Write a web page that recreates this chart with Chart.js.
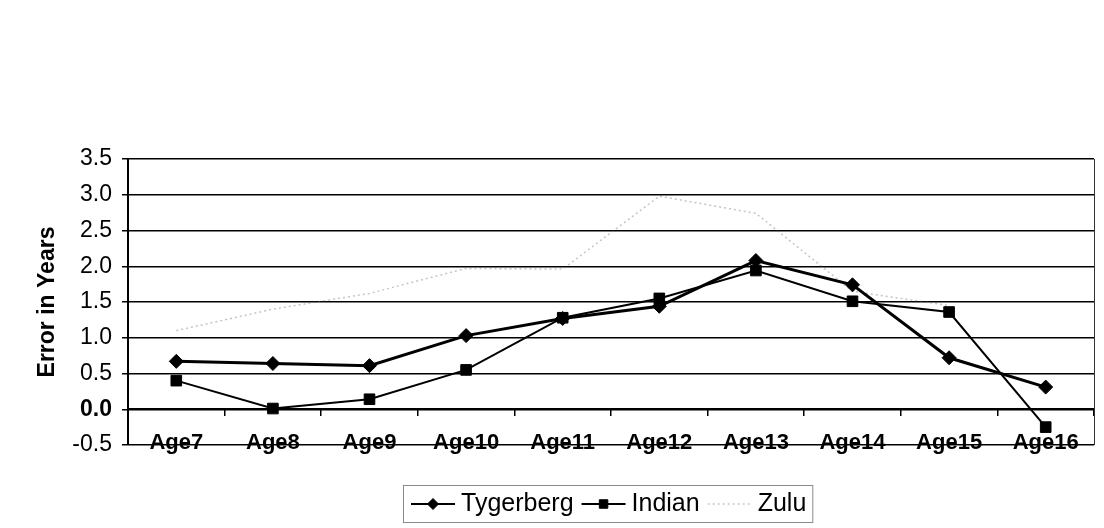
<!DOCTYPE html>
<html>
<head>
<meta charset="utf-8">
<title>Error in Years by Age</title>
<script src="https://cdn.jsdelivr.net/npm/chart.js@4"></script>
<style>
  html, body { margin: 0; padding: 0; background: #fff; }
  #chart { display: block; }
</style>
</head>
<body>
<canvas id="chart" width="1104" height="528"></canvas>
<script>
let categories = ["Age7", "Age8", "Age9", "Age10", "Age11", "Age12", "Age13", "Age14", "Age15", "Age16"];
let tygerberg = [0.67, 0.64, 0.61, 1.03, 1.27, 1.44, 2.08, 1.74, 0.72, 0.31];
let indian = [0.40, 0.01, 0.14, 0.55, 1.28, 1.55, 1.94, 1.51, 1.36, -0.25];
let zulu = [1.10, 1.40, 1.62, 1.97, 1.96, 2.98, 2.74, 1.65, 1.45, null];
let yTicks = [-0.5, 0.0, 0.5, 1.0, 1.5, 2.0, 2.5, 3.0, 3.5];

const fontFamily = "'Liberation Sans', Arial, sans-serif";

// category names sit low, across the bottom edge of the plot
const categoryLabels = {
  id: "categoryLabels",
  afterDraw(chart) {
    let ctx = chart.ctx;
    let x = chart.scales.x;
    let area = chart.chartArea;
    ctx.save();
    ctx.font = "bold 22px " + fontFamily;
    ctx.fillStyle = "#000";
    ctx.textAlign = "center";
    ctx.textBaseline = "alphabetic";
    chart.data.labels.forEach((label, i) => {
      ctx.fillText(label, x.getPixelForTick(i), area.bottom + 4);
    });
    // right edge of the plot frame
    ctx.strokeStyle = "#333";
    ctx.lineWidth = 1;
    ctx.beginPath();
    ctx.moveTo(area.right + 0.5, area.top);
    ctx.lineTo(area.right + 0.5, area.bottom);
    ctx.stroke();
    ctx.restore();
  },
};

// boxed legend with a line + marker sample for every series
const boxedLegend = {
  id: "boxedLegend",
  afterDraw(chart) {
    let ctx = chart.ctx;
    let area = chart.chartArea;
    let sampleW = 44;
    let gap = 6;
    let spacing = 8;
    ctx.save();
    ctx.font = "25px " + fontFamily;
    let items = chart.data.datasets.map((ds) => ({ ds, w: ctx.measureText(ds.label).width }));
    let total = items.reduce((s, it) => s + sampleW + gap + it.w, 0) + spacing * (items.length - 1);
    let boxW = total + 14;
    let left = Math.round((area.left + area.right) / 2 - boxW / 2) - 3;
    let top = 485;
    let boxH = 37;
    let midY = top + 19;

    ctx.strokeStyle = "#8a8a8a";
    ctx.lineWidth = 1;
    ctx.strokeRect(left + 0.5, top + 0.5, boxW, boxH);

    let x = left + 8;
    items.forEach((it) => {
      let ds = it.ds;
      ctx.save();
      ctx.strokeStyle = ds.borderColor;
      ctx.lineWidth = Math.min(ds.borderWidth, 2);
      ctx.setLineDash(ds.borderDash || []);
      ctx.beginPath();
      ctx.moveTo(x, midY);
      ctx.lineTo(x + sampleW, midY);
      ctx.stroke();
      ctx.restore();
      if (ds.pointRadius > 0) {
        ctx.fillStyle = ds.pointBackgroundColor;
        ctx.strokeStyle = ds.pointBorderColor;
        Chart.helpers.drawPoint(ctx, {
          pointStyle: ds.pointStyle,
          radius: ds.pointRadius - 1.5,
          rotation: 0,
          borderWidth: 1,
        }, x + sampleW / 2, midY);
      }
      x += sampleW + gap;
      ctx.fillStyle = "#000";
      ctx.textAlign = "left";
      ctx.textBaseline = "middle";
      ctx.fillText(ds.label, x, midY);
      x += it.w + spacing;
    });
    ctx.restore();
  },
};

//chart config
const config = {
  type: "line",
  data: {
    labels: categories,
    datasets: [
      {
        label: "Tygerberg",
        data: tygerberg,
        borderColor: "#000",
        borderWidth: 3,
        pointStyle: "rectRot",
        pointRadius: 7,
        pointBackgroundColor: "#000",
        pointBorderColor: "#000",
        pointBorderWidth: 1,
      },
      {
        label: "Indian",
        data: indian,
        borderColor: "#000",
        borderWidth: 2,
        pointStyle: "rect",
        pointRadius: 7.5,
        pointBackgroundColor: "#000",
        pointBorderColor: "#000",
        pointBorderWidth: 1,
      },
      {
        label: "Zulu",
        data: zulu,
        borderColor: "rgba(110,110,110,0.4)",
        borderWidth: 1.5,
        borderDash: [2, 3],
        pointRadius: 0,
      },
    ],
  },
  options: {
    responsive: false,
    animation: false,
    layout: { padding: { top: 159, right: 10, bottom: 83, left: 0 } },
    plugins: {
      legend: { display: false },
      tooltip: { enabled: false },
    },
    scales: {
      x: {
        type: "category",
        offset: true,
        position: { y: 0 },
        grid: {
          display: true,
          offset: true,
          drawOnChartArea: false,
          drawTicks: true,
          tickLength: 6,
          color: "#000",
          lineWidth: 1.5,
        },
        border: { display: true, color: "#000", width: 2 },
        ticks: { display: false },
      },
      y: {
        min: yTicks[0],
        max: yTicks[yTicks.length - 1],
        afterBuildTicks: (scale) => {
          scale.ticks = yTicks.map((v) => ({ value: v }));
        },
        afterFit: (scale) => {
          scale.width = 128;
        },
        ticks: {
          padding: 10,
          color: "#000",
          font: (c) => ({
            family: fontFamily,
            size: 23,
            weight: c.tick && c.tick.value === 0 ? "bold" : "normal",
          }),
          callback: (v) => Number(v).toFixed(1),
        },
        grid: { color: "#000", lineWidth: 1.5, tickLength: 6 },
        border: { color: "#000", width: 2 },
        title: {
          display: true,
          text: "Error in Years",
          color: "#000",
          font: { family: fontFamily, size: 23, weight: "bold" },
          padding: { top: 34, bottom: 0 },
        },
      },
    },
  },
  plugins: [categoryLabels, boxedLegend],
};

//create chart
let chart = new Chart(document.getElementById("chart"), config);
</script>
</body>
</html>
